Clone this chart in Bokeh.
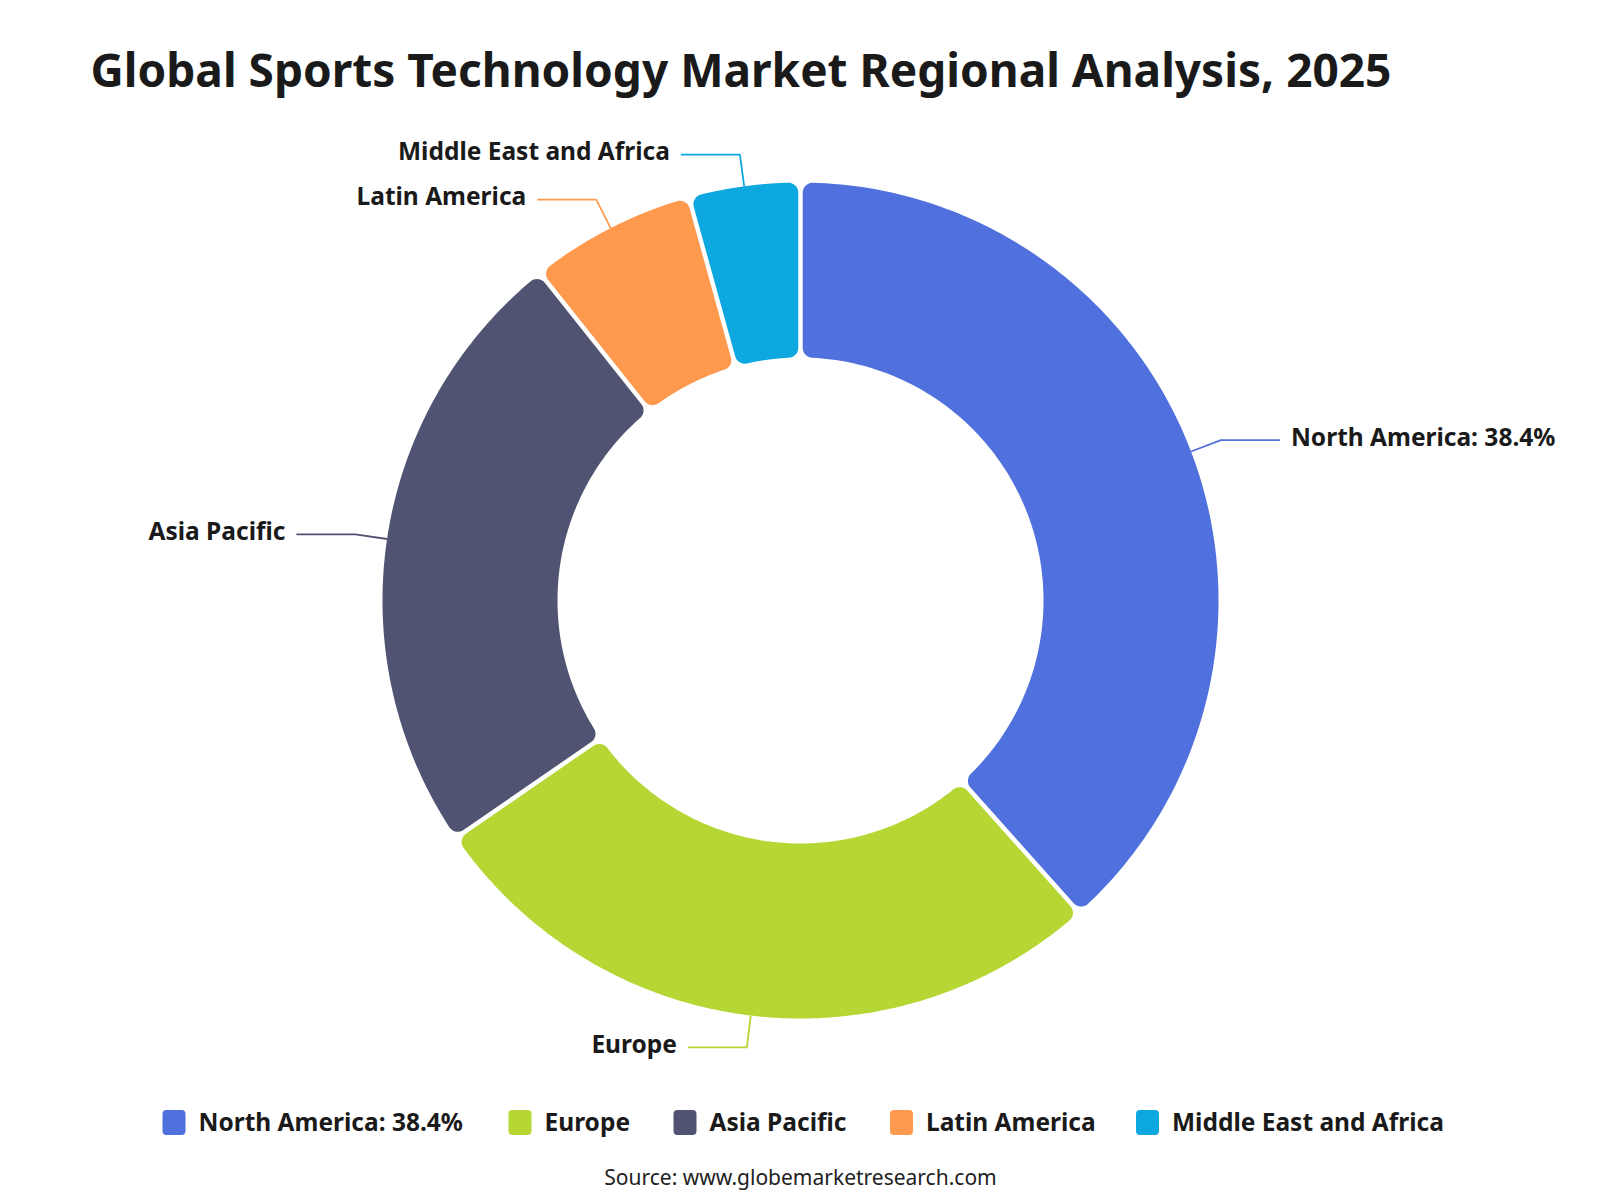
import numpy as np
from bokeh.plotting import figure
from bokeh.models import Range1d, ColumnDataSource
from bokeh.core.properties import value
from bokeh.embed import file_html
from bokeh.resources import INLINE

# ---- data ----
title_text = "Global Sports Technology Market Regional Analysis, 2025"
regions = ["North America", "Europe", "Asia Pacific", "Latin America", "Middle East and Africa"]
shares = [38.4, 27.0, 23.9, 6.4, 4.3]
slice_labels = ["North America: 38.4%", "Europe", "Asia Pacific", "Latin America", "Middle East and Africa"]
colors = ["#5070dd", "#b6d634", "#505372", "#ff994d", "#0ca8df"]
source_text = "Source: www.globemarketresearch.com"

# ---- layout ----
W, H = 1600, 1200
FONT = "Noto Sans"
TEXT_COLOR = "#1a1a1a"

p = figure(width=W, height=H, x_range=Range1d(0, W), y_range=Range1d(0, H),
           output_backend="svg", toolbar_location=None, min_border=0)
p.axis.visible = False
p.grid.visible = False
p.outline_line_color = None
p.background_fill_color = "white"
p.border_fill_color = "white"

cx, cy = 800, 600
r_in, r_out = 243, 418
half_gap, corner = 2.2, 10.0

frac = np.array(shares) / np.sum(shares)
cum = np.concatenate([[0.0], np.cumsum(frac)])
start = np.pi / 2 - 2 * np.pi * cum[:-1]
end = np.pi / 2 - 2 * np.pi * cum[1:]
mid = (start + end) / 2


def _arc(center, v1, v2, rad, n=10):
    a1 = np.arctan2(v1[1], v1[0])
    a2 = np.arctan2(v2[1], v2[0])
    d = (a2 - a1 + np.pi) % (2 * np.pi) - np.pi
    t = np.linspace(a1, a1 + d, n)
    return center[0] + rad * np.cos(t), center[1] + rad * np.sin(t)


def rounded_sector(ts, te):
    """Annular sector from angle ts clockwise to te, with gaps and rounded corners."""
    us = np.array([np.cos(ts), np.sin(ts)])
    ns = np.array([np.sin(ts), -np.cos(ts)])      # inward normal at start edge
    ue = np.array([np.cos(te), np.sin(te)])
    ne = np.array([-np.sin(te), np.cos(te)])      # inward normal at end edge
    b = half_gap + corner
    px, py = [], []

    def corner_pts(u, n, rr, outer, edge_first):
        a = np.sqrt(rr ** 2 - b ** 2)
        c = a * u + b * n
        t_edge = -n
        t_circ = c / np.linalg.norm(c) * (1 if outer else -1)
        if edge_first:
            return _arc(c, t_edge, t_circ, corner)
        return _arc(c, t_circ, t_edge, corner)

    # start edge: inner corner -> outer corner
    x, y = corner_pts(us, ns, r_in + corner, False, False)
    px += list(x); py += list(y)
    x, y = corner_pts(us, ns, r_out - corner, True, True)
    px += list(x); py += list(y)
    # outer arc clockwise
    cs = np.sqrt((r_out - corner) ** 2 - b ** 2) * us + b * ns
    ce = np.sqrt((r_out - corner) ** 2 - b ** 2) * ue + b * ne
    a1 = np.arctan2(cs[1], cs[0]); a2 = np.arctan2(ce[1], ce[0])
    while a2 > a1:
        a2 -= 2 * np.pi
    t = np.linspace(a1, a2, 160)
    px += list(r_out * np.cos(t)); py += list(r_out * np.sin(t))
    # end edge: outer corner -> inner corner
    x, y = corner_pts(ue, ne, r_out - corner, True, False)
    px += list(x); py += list(y)
    x, y = corner_pts(ue, ne, r_in + corner, False, True)
    px += list(x); py += list(y)
    # inner arc counter-clockwise
    cs = np.sqrt((r_in + corner) ** 2 - b ** 2) * us + b * ns
    ce = np.sqrt((r_in + corner) ** 2 - b ** 2) * ue + b * ne
    a1 = np.arctan2(ce[1], ce[0]); a2 = np.arctan2(cs[1], cs[0])
    while a2 < a1:
        a2 += 2 * np.pi
    t = np.linspace(a1, a2, 120)
    px += list(r_in * np.cos(t)); py += list(r_in * np.sin(t))
    return list(cx + np.array(px)), list(cy + np.array(py))


sx, sy = [], []
for a0, a1 in zip(start, end):
    xx, yy = rounded_sector(a0, a1)
    sx.append(xx); sy.append(yy)

src = ColumnDataSource(dict(xs=sx, ys=sy, color=colors, name=regions, share=shares))
p.patches(xs="xs", ys="ys", fill_color="color", line_color=None, source=src)

# leader lines + labels
xs, ys, lx, ly, align = [], [], [], [], []
for m in mid:
    c, s = np.cos(m), np.sin(m)
    x0, y0 = cx + r_out * c, cy + r_out * s
    x1, y1 = cx + 450 * c, cy + 450 * s
    sgn = 1 if c >= 0 else -1
    x2 = x1 + sgn * 59
    xs.append([x0, x1, x2])
    ys.append([y0, y1, y1])
    lx.append(x2 + sgn * 11)
    ly.append(y1 + 4)
    align.append("left" if sgn > 0 else "right")

p.multi_line(xs=xs, ys=ys, line_color=colors, line_width=1.8)
lab_src = ColumnDataSource(dict(x=lx, y=ly, t=slice_labels, a=align))
p.text(x="x", y="y", text="t", text_align="a", text_baseline="middle",
       text_font=value(FONT), text_font_style="bold", text_font_size="24.5px",
       text_color=TEXT_COLOR, source=lab_src)

# title
p.text(x=[90], y=[H - 68], text=[title_text], text_align="left", text_baseline="alphabetic",
       text_font=value(FONT), text_font_style="bold", text_font_size="46px",
       text_color=TEXT_COLOR)

# legend
leg_x = [173.5, 519.5, 684.5, 901, 1147]
leg_y = H - 1122
p.rect(x=leg_x, y=[leg_y] * 5, width=15, height=17, fill_color=colors,
       line_color=colors, line_width=8, line_join="round")
p.text(x=[x + 24.5 for x in leg_x], y=[leg_y + 1] * 5, text=slice_labels,
       text_align="left", text_baseline="middle",
       text_font=value(FONT), text_font_style="bold", text_font_size="24.5px",
       text_color=TEXT_COLOR)

# source
p.text(x=[800], y=[H - 1176], text=[source_text], text_align="center", text_baseline="alphabetic",
       text_font=value(FONT), text_font_size="21px", text_color="#222222")

open("out.html", "w").write(file_html(p, INLINE))
